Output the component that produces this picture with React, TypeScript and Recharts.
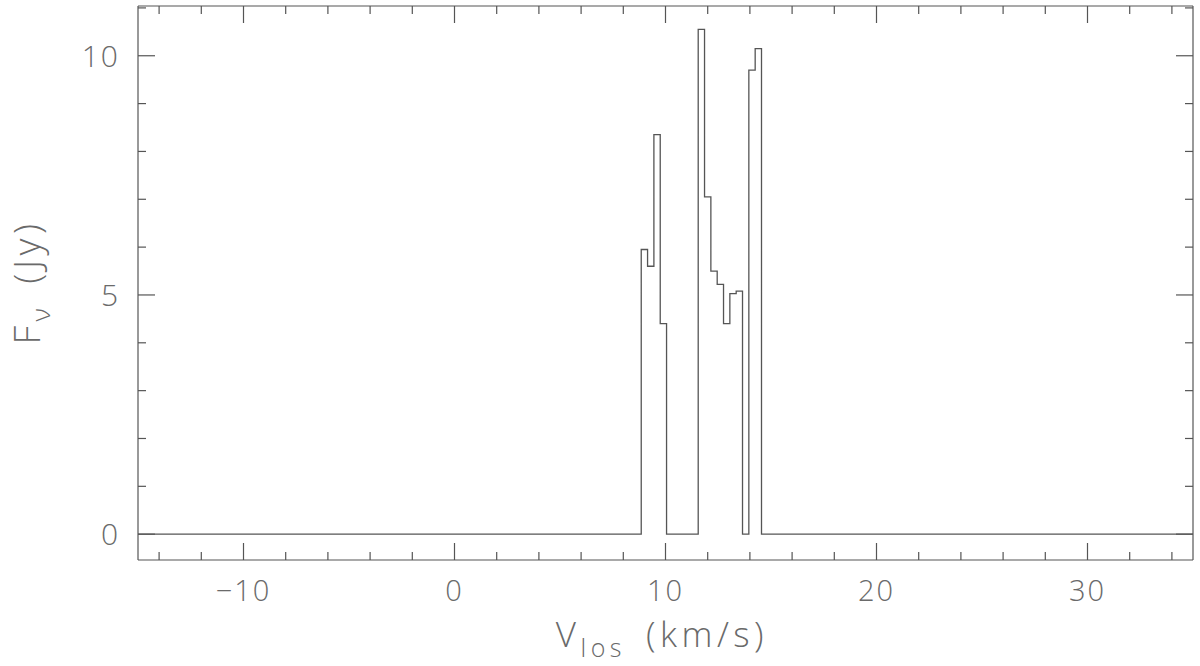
import { Line, LineChart, XAxis, YAxis } from "recharts";

// channel left edges (km/s) and flux (Jy), stepAfter
const velocity = [
  -15, 8.85, 9.15, 9.45, 9.75, 10.05, 11.55, 11.85, 12.15, 12.45, 12.75,
  13.05, 13.35, 13.65, 13.95, 14.25, 14.55, 35,
];
const flux = [
  0, 5.95, 5.6, 8.35, 4.4, 0, 10.55, 7.05, 5.5, 5.22, 4.4, 5.03, 5.08, 0,
  9.7, 10.15, 0, 0,
];

const xMajor = [-10, 0, 10, 20, 30];
const xMinor = [-14, -12, -8, -6, -4, -2, 2, 4, 6, 8, 12, 14, 16, 18, 22, 24, 26, 28, 32, 34];
const yMajor = [0, 5, 10];
const yMinor = [1, 2, 3, 4, 6, 7, 8, 9, 11];

const xDomain = [-15, 35];
const yDomain = [-0.54, 11.04];

const INK = "#555";
const TXT = "#6a6a6a";
const FONT = "'Open Sans', 'Liberation Sans', sans-serif";
const MAJOR = 17;
const MINOR = 8;

const fmt = (v: number) => (v < 0 ? `\u2212${Math.abs(v)}` : `${v}`);

function XTick({ x, y, payload, top }: any) {
  const major = xMajor.includes(payload.value);
  const len = major ? MAJOR : MINOR;
  return (
    <g>
      <line x1={x} x2={x} y1={y} y2={top ? y + len : y - len} stroke={INK} strokeWidth={1.2} />
      {major && !top && (
        <text x={x} y={y + 41} textAnchor="middle" fontSize={29} fontWeight={300}
          fill={TXT} fontFamily={FONT} letterSpacing={2}>
          {fmt(payload.value)}
        </text>
      )}
    </g>
  );
}

function YTick({ x, y, payload, right }: any) {
  const major = yMajor.includes(payload.value);
  const len = major ? MAJOR : MINOR;
  return (
    <g>
      <line x1={x} x2={right ? x - len : x + len} y1={y} y2={y} stroke={INK} strokeWidth={1.2} />
      {major && !right && (
        <text x={x - 18} y={y + 11} textAnchor="end" fontSize={30} fontWeight={300}
          fill={TXT} fontFamily={FONT} letterSpacing={2}>
          {fmt(payload.value)}
        </text>
      )}
    </g>
  );
}

export default function App() {
  const rows = velocity.map((v, i) => ({ v, f: flux[i] }));
  const xTicks = [...xMajor, ...xMinor].sort((a, b) => a - b);
  const yTicks = [...yMajor, ...yMinor].sort((a, b) => a - b);
  return (
    <div style={{ position: "relative", width: 1200, height: 666 }}>
      <style>{"body{margin:0}"}</style>
      <LineChart width={1200} height={666} data={rows}
        margin={{ top: 5, right: 6, bottom: 0, left: 0 }}>
        <XAxis dataKey="v" type="number" domain={xDomain} allowDataOverflow
          ticks={xTicks} interval={0} height={106} tickSize={0} tickMargin={0}
          tickLine={false} axisLine={{ stroke: INK, strokeWidth: 1.2 }}
          tick={(p: any) => <XTick {...p} />} />
        <XAxis xAxisId="top" orientation="top" dataKey="v" type="number" domain={xDomain}
          allowDataOverflow ticks={xTicks} interval={0} height={1} tickSize={0} tickMargin={0}
          tickLine={false} axisLine={{ stroke: INK, strokeWidth: 1.2 }}
          tick={(p: any) => <XTick {...p} top />} />
        <YAxis type="number" domain={yDomain} allowDataOverflow ticks={yTicks} interval={0}
          width={138} tickSize={0} tickMargin={0} tickLine={false}
          axisLine={{ stroke: INK, strokeWidth: 1.2 }}
          tick={(p: any) => <YTick {...p} />} />
        <YAxis yAxisId="right" orientation="right" type="number" domain={yDomain}
          allowDataOverflow ticks={yTicks} interval={0} width={1} tickSize={0} tickMargin={0}
          tickLine={false} axisLine={{ stroke: INK, strokeWidth: 1.2 }}
          tick={(p: any) => <YTick {...p} right />} />
        <Line type="stepAfter" dataKey="f" stroke={INK} strokeWidth={1.3} dot={false}
          isAnimationActive={false} />
        <Line type="stepAfter" dataKey="f" xAxisId="top" yAxisId="right" stroke="none"
          dot={false} activeDot={false} isAnimationActive={false} />
      </LineChart>
      <svg width={1200} height={666}
        style={{ position: "absolute", left: 0, top: 0, pointerEvents: "none" }}>
        <text x={662} y={647} textAnchor="middle" fontSize={35} fontWeight={300}
          fill={TXT} fontFamily={FONT} letterSpacing={4.5}>
          V<tspan fontSize={25} dy={10}>los</tspan>
          <tspan fontSize={35} dy={-10} dx={20}>(km/s)</tspan>
        </text>
        <text transform="translate(40,282) rotate(-90)" textAnchor="middle" fontSize={37}
          fontWeight={300} fill={TXT} fontFamily={FONT} letterSpacing={4.5}>
          F<tspan fontSize={26} dy={10}>{"\u03bd"}</tspan>
          <tspan fontSize={37} dy={-10} dx={20}>(Jy)</tspan>
        </text>
      </svg>
    </div>
  );
}
